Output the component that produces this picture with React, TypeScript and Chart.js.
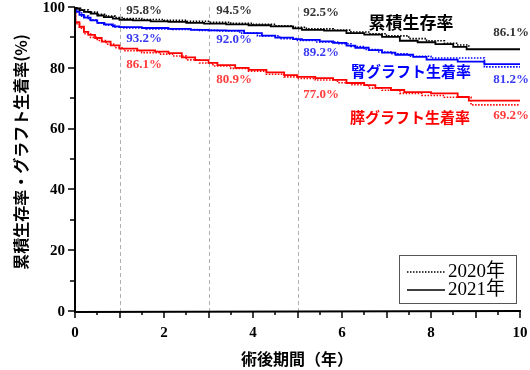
import React, { useEffect, useRef } from "react";
import { Chart, registerables } from "chart.js";
Chart.register(...registerables);

// ---- data (years after surgery, percent) ----
const survT2021 = [0, 0.03, 0.1, 0.2, 0.35, 0.5, 0.65, 0.85, 1.0, 1.3, 1.7, 2.1, 2.5, 2.9, 3.4, 3.9, 4.4, 4.9, 5.1, 5.6, 6.1, 6.5, 6.9, 7.3, 7.7, 8.1, 8.5, 8.8, 10];
const survV2021 = [100, 99.5, 99.0, 98.4, 97.8, 97.2, 96.7, 96.2, 95.8, 95.6, 95.3, 95.1, 94.8, 94.5, 94.3, 94.0, 93.6, 93.0, 92.5, 92.2, 91.4, 90.9, 90.2, 88.9, 88.4, 87.8, 86.9, 86.1, 86.1];
const survT2020 = [0, 0.05, 0.15, 0.3, 0.5, 0.7, 0.9, 1.1, 1.5, 2.0, 2.5, 3.0, 3.5, 4.0, 4.5, 4.9, 5.2, 5.8, 6.2, 6.6, 7.0, 7.5, 7.9, 8.3, 8.6, 8.85];
const survV2020 = [100, 99.6, 99.0, 98.3, 97.6, 97.0, 96.5, 96.2, 95.9, 95.6, 95.3, 95.0, 94.6, 94.3, 93.8, 93.3, 92.8, 92.4, 91.8, 91.2, 90.5, 89.6, 88.9, 88.1, 87.5, 86.6];

const kidneyT2021 = [0, 0.03, 0.1, 0.2, 0.35, 0.5, 0.65, 0.85, 1.0, 1.5, 2.1, 2.6, 3.0, 3.4, 3.8, 4.2, 4.5, 4.9, 5.1, 5.5, 5.8, 6.1, 6.3, 6.6, 6.9, 7.2, 7.6, 7.9, 8.6, 9.2, 10];
const kidneyV2021 = [100, 98.5, 97.4, 96.5, 95.6, 94.8, 94.3, 93.6, 93.4, 93.1, 92.8, 92.5, 92.3, 92.2, 91.4, 90.6, 89.9, 89.4, 89.2, 88.7, 88.2, 87.3, 86.6, 85.8, 85.0, 84.3, 83.6, 82.7, 82.0, 81.2, 81.2];
const kidneyT2020 = [0, 0.05, 0.15, 0.3, 0.5, 0.7, 0.9, 1.1, 1.6, 2.2, 2.8, 3.2, 3.7, 4.1, 4.6, 5.0, 5.4, 5.9, 6.2, 6.5, 6.8, 7.1, 7.5, 8.0, 9.2, 10];
const kidneyV2020 = [100, 98.3, 97.0, 95.8, 94.7, 94.0, 93.4, 93.1, 92.8, 92.6, 92.3, 92.1, 91.4, 90.5, 89.6, 89.0, 88.5, 87.9, 87.0, 86.0, 85.2, 84.6, 83.8, 83.2, 80.3, 80.3];

const pancT2021 = [0, 0.01, 0.1, 0.2, 0.3, 0.45, 0.6, 0.8, 1.0, 1.4, 1.8, 2.1, 2.4, 2.7, 3.0, 3.2, 3.6, 3.9, 4.3, 4.7, 5.0, 5.4, 5.8, 6.1, 6.5, 6.75, 7.1, 7.4, 8.0, 8.6, 8.85, 10];
const pancV2021 = [100, 95.0, 93.5, 91.8, 90.8, 89.8, 88.6, 87.4, 86.3, 85.7, 85.3, 84.8, 83.4, 82.5, 81.6, 80.9, 80.0, 79.3, 78.5, 77.6, 77.0, 76.6, 76.0, 75.0, 74.3, 73.4, 72.7, 72.0, 71.6, 70.4, 69.2, 69.2];
const pancT2020 = [0, 0.01, 0.1, 0.2, 0.35, 0.5, 0.7, 0.9, 1.1, 1.5, 1.9, 2.2, 2.5, 2.8, 3.1, 3.5, 3.9, 4.3, 4.7, 5.0, 5.4, 5.9, 6.2, 6.6, 6.9, 7.3, 7.8, 8.3, 8.9, 10];
const pancV2020 = [100, 94.5, 93.0, 91.2, 90.0, 89.0, 87.8, 86.6, 85.6, 85.0, 84.5, 83.9, 82.6, 81.6, 80.6, 79.8, 78.9, 77.9, 77.0, 76.5, 76.0, 75.1, 74.4, 73.3, 72.6, 71.6, 70.9, 70.3, 67.8, 67.8];

const xTickValues = [0, 2, 4, 6, 8, 10];
const yTickValues = [0, 20, 40, 60, 80, 100];
const guideYears = [1, 3, 5];
const survLabels = ["95.8%", "94.5%", "92.5%", "86.1%"];
const kidneyLabels = ["93.2%", "92.0%", "89.2%", "81.2%"];
const pancLabels = ["86.1%", "80.9%", "77.0%", "69.2%"];
const seriesNames = ["累積生存率", "腎グラフト生着率", "膵グラフト生着率"];
const legendLabels = ["2020年", "2021年"];
const yTitle = "累積生存率・グラフト生着率(%)";
const xTitle = "術後期間（年）";

// ---- layout (pixels) ----
const LBL_X = [144, 234, 321, 511];
const LBL_Y = { surv: [11, 11, 13, 33], kidney: [39, 40, 53, 80], panc: [65, 80, 95, 116] };
const NAME_POS = [[411, 23], [411, 71], [410, 117]];
const NAME_SIZE = [17, 15, 15];

const NUM_FONT = "'Liberation Serif', 'Noto Sans CJK JP', serif";
const CJK_FONT = "'Noto Sans CJK JP', sans-serif";

const pts = (t: number[], v: number[]) => t.map((x, i) => ({ x, y: v[i] }));

const overlay = {
  id: "overlay",
  beforeDatasetsDraw(chart: any) {
    const { ctx, chartArea, scales } = chart;
    ctx.save();
    ctx.strokeStyle = "#b0b0b0";
    ctx.lineWidth = 1;
    ctx.setLineDash([4, 3]);
    for (const t of guideYears) {
      const px = Math.round(scales.x.getPixelForValue(t)) + 0.5;
      ctx.beginPath();
      ctx.moveTo(px, chartArea.top);
      ctx.lineTo(px, chartArea.bottom);
      ctx.stroke();
    }
    ctx.restore();
  },
  afterDraw(chart: any) {
    const { ctx, chartArea, scales } = chart;
    const { left, right, top, bottom } = chartArea;
    ctx.save();
    // axes
    ctx.strokeStyle = "#000";
    ctx.lineWidth = 2;
    ctx.beginPath();
    ctx.moveTo(left, top);
    ctx.lineTo(left, bottom + 1);
    ctx.lineTo(right + 1, bottom);
    ctx.stroke();
    ctx.lineWidth = 1.5;
    for (let v = 0; v <= 100; v += 10) {
      const py = Math.round(scales.y.getPixelForValue(v));
      const len = v % 20 === 0 ? 7 : 5;
      ctx.beginPath();
      ctx.moveTo(left - len, py);
      ctx.lineTo(left, py);
      ctx.stroke();
    }
    for (let t = 0; t <= 10; t += 0.5) {
      const px = Math.round(scales.x.getPixelForValue(t));
      const len = t % 1 === 0 ? 7 : 4;
      ctx.beginPath();
      ctx.moveTo(px, bottom);
      ctx.lineTo(px, bottom + len);
      ctx.stroke();
    }
    // tick labels
    ctx.fillStyle = "#000";
    ctx.font = `bold 15px ${NUM_FONT}`;
    ctx.textBaseline = "middle";
    ctx.textAlign = "right";
    for (const v of yTickValues) ctx.fillText(String(v), 65, scales.y.getPixelForValue(v) + 1);
    ctx.textAlign = "center";
    for (const t of xTickValues) ctx.fillText(String(t), scales.x.getPixelForValue(t), 333);
    // percentage labels
    ctx.font = `bold 13px ${NUM_FONT}`;
    const groups: [string[], number[], string][] = [
      [survLabels, LBL_Y.surv, "#333333"],
      [kidneyLabels, LBL_Y.kidney, "#3a3af5"],
      [pancLabels, LBL_Y.panc, "#ff3b3b"],
    ];
    for (const [labels, ys, col] of groups) {
      ctx.fillStyle = col;
      labels.forEach((s, i) => ctx.fillText(s, LBL_X[i], ys[i]));
    }
    // series names
    const nameCols = ["#000000", "#0000ff", "#ff0000"];
    seriesNames.forEach((n, i) => {
      ctx.font = `bold ${NAME_SIZE[i]}px ${CJK_FONT}`;
      ctx.fillStyle = nameCols[i];
      ctx.fillText(n, NAME_POS[i][0], NAME_POS[i][1]);
    });
    // axis titles
    ctx.fillStyle = "#000";
    ctx.font = `bold 16px ${CJK_FONT}`;
    ctx.fillText(xTitle, 297, 359);
    ctx.save();
    ctx.translate(21, 152);
    ctx.rotate(-Math.PI / 2);
    ctx.fillText(yTitle, 0, 0);
    ctx.restore();
    // legend
    ctx.lineWidth = 1;
    ctx.strokeStyle = "#555";
    ctx.strokeRect(399.5, 255.5, 117, 48);
    ctx.strokeStyle = "#000";
    ctx.lineWidth = 1.5;
    ctx.setLineDash([1.5, 1.5]);
    ctx.beginPath(); ctx.moveTo(407, 272); ctx.lineTo(445, 272); ctx.stroke();
    ctx.setLineDash([]);
    ctx.beginPath(); ctx.moveTo(407, 290); ctx.lineTo(445, 290); ctx.stroke();
    ctx.textAlign = "left";
    ctx.font = `19px ${NUM_FONT}`;
    ctx.fillText(legendLabels[0], 448, 272);
    ctx.fillText(legendLabels[1], 448, 290);
    ctx.restore();
  },
};

export default function App() {
  const ref = useRef<HTMLCanvasElement>(null);
  useEffect(() => {
    document.body.style.margin = "0";
    const mk = (data: any, color: string, dotted: boolean) => ({
      data,
      borderColor: color,
      borderWidth: dotted ? 1.6 : 1.8,
      borderDash: dotted ? [1.5, 1.5] : [],
      stepped: true,
      pointRadius: 0,
      fill: false,
    });
    const chart = new Chart(ref.current!, {
      type: "line",
      data: {
        datasets: [
          mk(pts(survT2020, survV2020), "#000000", true),
          mk(pts(survT2021, survV2021), "#000000", false),
          mk(pts(kidneyT2020, kidneyV2020), "#0000ff", true),
          mk(pts(kidneyT2021, kidneyV2021), "#0000ff", false),
          mk(pts(pancT2020, pancV2020), "#ff0000", true),
          mk(pts(pancT2021, pancV2021), "#ff0000", false),
        ] as any,
      },
      options: {
        animation: false,
        responsive: false,
        layout: { padding: { left: 0, right: 10, top: 7, bottom: 0 } },
        plugins: { legend: { display: false }, tooltip: { enabled: false } },
        scales: {
          x: {
            type: "linear",
            min: 0,
            max: 10,
            grid: { display: false, drawTicks: false },
            border: { display: false },
            ticks: { display: false, stepSize: 2 },
            afterFit: (s: any) => { s.height = 59; },
          },
          y: {
            min: 0,
            max: 100,
            grid: { display: false, drawTicks: false },
            border: { display: false },
            ticks: { display: false, stepSize: 20 },
            afterFit: (s: any) => { s.width = 75; },
          },
        },
      } as any,
      plugins: [overlay],
    });
    return () => chart.destroy();
  }, []);
  return (
    <div style={{ width: 530, height: 370 }}>
      <canvas ref={ref} width={530} height={370} style={{ display: "block" }} />
    </div>
  );
}
